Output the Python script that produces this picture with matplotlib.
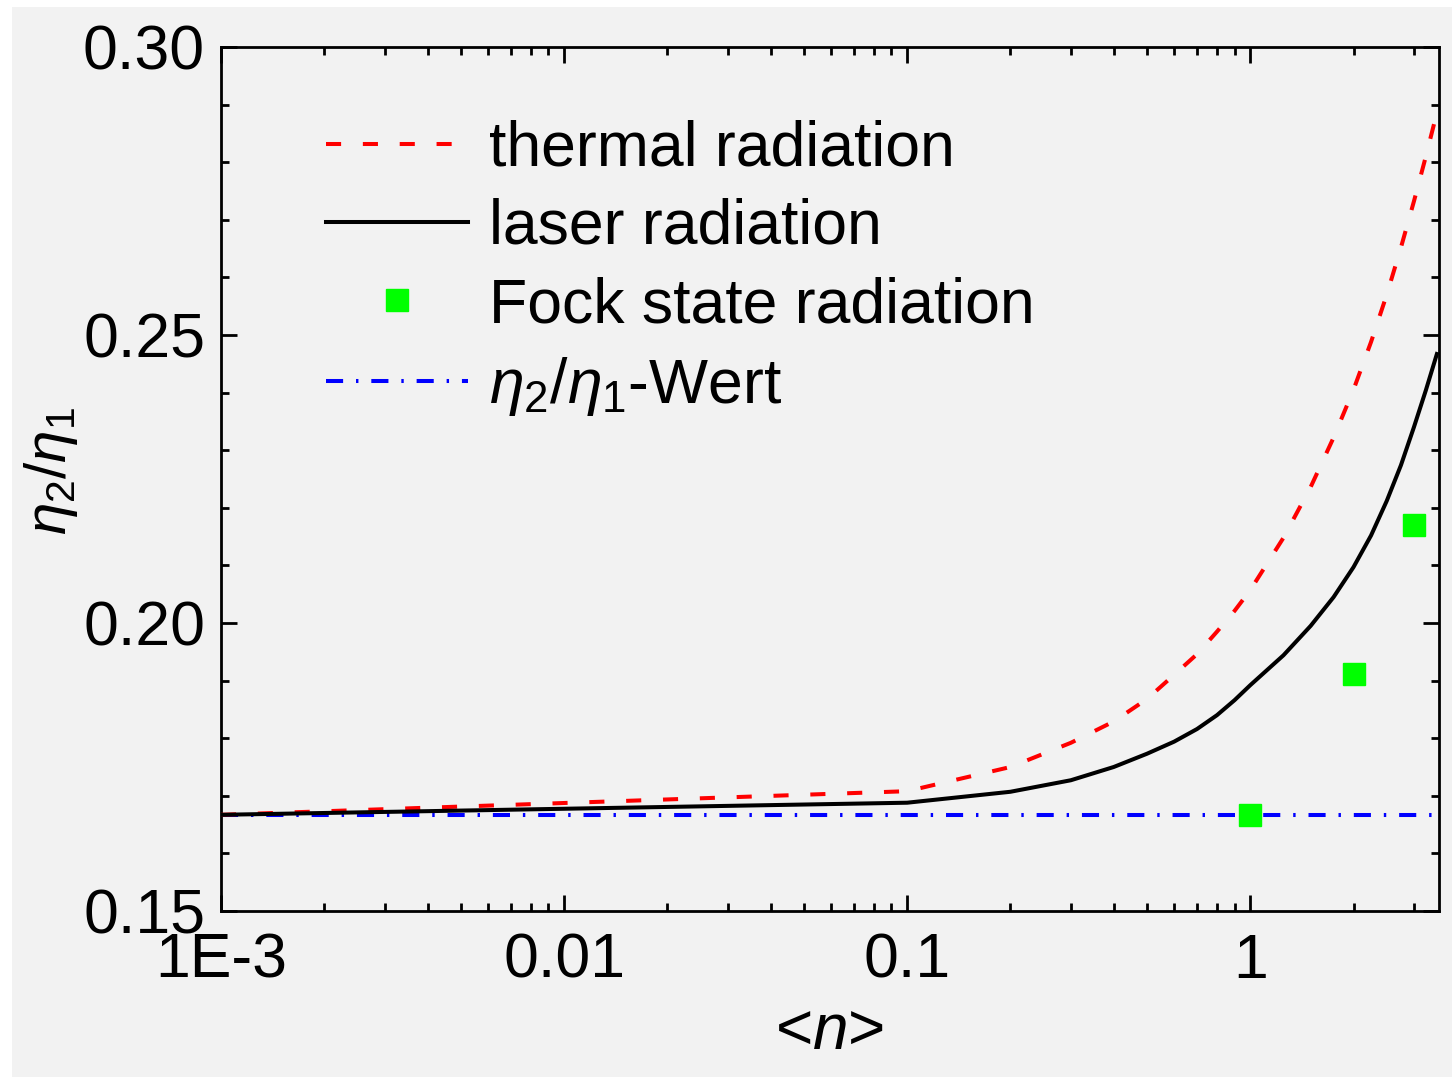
import matplotlib
matplotlib.use("Agg")
import matplotlib.pyplot as plt
from matplotlib.patches import Rectangle
from matplotlib.ticker import LogLocator, FixedLocator, MultipleLocator, NullFormatter

# ---------------- data ----------------
n_values = [0.001, 0.1, 0.2, 0.3, 0.4, 0.5, 0.6, 0.7, 0.8, 0.9, 1.0,
            1.25, 1.5, 1.75, 2.0, 2.25, 2.5, 2.75, 3.0, 3.25, 3.5]
thermal = [0.1667, 0.1708, 0.1750, 0.1792, 0.1829, 0.1868, 0.1910, 0.1946, 0.1985, 0.2021, 0.2057,
           0.2148, 0.2236, 0.2322, 0.2405, 0.2488, 0.2570, 0.2652, 0.2732, 0.2810, 0.2886]
laser = [0.1667, 0.1688, 0.1707, 0.1727, 0.1750, 0.1773, 0.1794, 0.1816, 0.1840, 0.1866, 0.1892,
         0.1944, 0.1995, 0.2045, 0.2097, 0.2152, 0.2212, 0.2274, 0.2340, 0.2404, 0.2467]
fock_n = [1, 2, 3]
fock_vals = [0.1667, 0.1911, 0.2170]
ratio_value = 0.1667

x_ticks = [0.001, 0.01, 0.1, 1]
x_ticklabels = ["1E-3", "0.01", "0.1", "1"]
y_ticks = [0.15, 0.20, 0.25, 0.30]
y_ticklabels = ["0.15", "0.20", "0.25", "0.30"]

labels = ["thermal radiation", "laser radiation", "Fock state radiation",
          r"$\eta_2/\eta_1$-Wert"]

# ---------------- style ----------------
plt.rcParams['font.family'] = ['Liberation Sans', 'DejaVu Sans']
plt.rcParams['mathtext.fontset'] = 'custom'
plt.rcParams['mathtext.rm'] = 'Liberation Sans'
plt.rcParams['mathtext.it'] = 'Liberation Sans:italic'
plt.rcParams['mathtext.bf'] = 'Liberation Sans:bold'

W, H = 1452, 1077
fig = plt.figure(figsize=(W / 100, H / 100), dpi=100)
fig.patch.set_facecolor('white')
bg = '#f2f2f2'
fig.patches.append(Rectangle((12 / W, 0), 1 - 12 / W, 1 - 7 / H,
                             transform=fig.transFigure, facecolor=bg,
                             edgecolor='none', zorder=-10))

left, right, top, bottom = 221, 1439, 47, 911
ax = fig.add_axes([left / W, 1 - bottom / H, (right - left) / W, (bottom - top) / H])
ax.set_facecolor(bg)

lw = 2.9
ax.plot(n_values, thermal, color='#ff0000', lw=lw, dashes=(3.75, 5.4),
        label=labels[0], zorder=3)
ax.plot(n_values, laser, color='black', lw=lw, label=labels[1], zorder=3)
ax.plot(fock_n, fock_vals, linestyle='none', marker='s', markersize=16.5,
        markerfacecolor='#00ff00', markeredgecolor='#00ff00', label=labels[2], zorder=4)
ax.axhline(ratio_value, color='#0000ff', lw=lw, dashes=(4.25, 3.2, 0.6, 3.2),
           label=labels[3], zorder=2)

ax.set_xscale('log')
ax.set_xlim(0.001, 3.55)
ax.set_ylim(0.15, 0.30)

ax.xaxis.set_major_locator(FixedLocator(x_ticks))
ax.set_xticklabels(x_ticklabels)
ax.xaxis.set_minor_locator(LogLocator(base=10, subs=range(2, 10), numticks=20))
ax.xaxis.set_minor_formatter(NullFormatter())
ax.yaxis.set_major_locator(FixedLocator(y_ticks))
ax.set_yticklabels(y_ticklabels)
ax.yaxis.set_minor_locator(MultipleLocator(0.01))

for s in ax.spines.values():
    s.set_linewidth(2.0)
ax.tick_params(which='both', direction='in', top=True, right=True, width=2.0,
               labelsize=45, colors='black')
ax.tick_params(which='major', length=11.3)
ax.tick_params(which='minor', length=5.5)
ax.tick_params(axis='y', which='major', pad=11.5)
ax.tick_params(axis='x', which='major', pad=15)

ax.set_xlabel(r"<$n$>", fontsize=46, labelpad=8)
ax.set_ylabel(r"$\eta_2/\eta_1$", fontsize=42)
ax.yaxis.set_label_coords((80 - left) / (right - left), 1 - (471 - top) / (bottom - top))

leg = ax.legend(loc='upper left', bbox_to_anchor=(0.066, 0.945), frameon=False,
                fontsize=45, handlelength=2.27, handletextpad=0.33,
                labelspacing=0.31, borderaxespad=0, markerscale=1.0,
                numpoints=1)

fig.savefig("out.png", dpi=100, facecolor=fig.get_facecolor())
